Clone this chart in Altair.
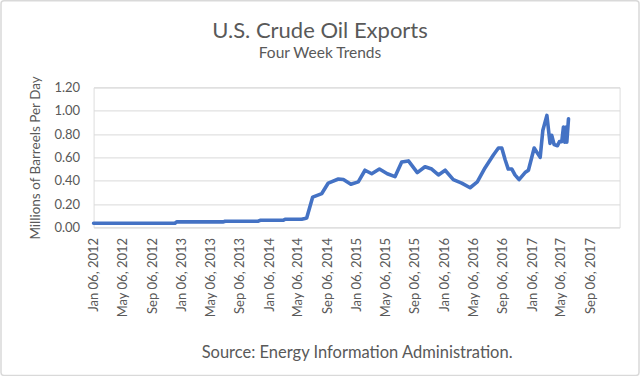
import altair as alt
import pandas as pd

# Four-week average U.S. crude oil exports (million barrels per day)
dates = [
    "2012-01-06", "2012-12-10", "2012-12-17", "2013-06-30", "2013-07-07", "2013-11-22",
    "2013-11-30", "2014-03-07", "2014-03-14", "2014-05-22", "2014-06-05", "2014-06-12",
    "2014-07-07", "2014-08-14", "2014-09-10", "2014-10-22", "2014-11-12", "2014-12-13",
    "2015-01-13", "2015-02-10", "2015-03-10", "2015-04-11", "2015-05-14", "2015-06-15",
    "2015-07-13", "2015-08-10", "2015-09-16", "2015-10-18", "2015-11-15", "2015-12-13",
    "2016-01-10", "2016-02-13", "2016-03-19", "2016-04-23", "2016-05-23", "2016-06-24",
    "2016-07-29", "2016-08-19", "2016-09-02", "2016-09-16", "2016-09-29", "2016-10-14",
    "2016-10-27", "2016-11-13", "2016-12-08", "2016-12-22", "2017-01-15", "2017-02-09",
    "2017-02-20", "2017-03-09", "2017-03-22", "2017-03-29", "2017-04-08", "2017-04-22",
    "2017-04-30", "2017-05-10", "2017-05-17", "2017-05-23", "2017-05-28", "2017-05-31",
    "2017-06-07",
]
exports = [
    0.036, 0.036, 0.047, 0.047, 0.053, 0.053,
    0.061, 0.061, 0.070, 0.070, 0.077, 0.080,
    0.26, 0.29, 0.38, 0.415, 0.41, 0.37,
    0.39, 0.49, 0.46, 0.50, 0.46, 0.435,
    0.56, 0.57, 0.47, 0.52, 0.50, 0.45,
    0.49, 0.41, 0.38, 0.34, 0.39, 0.51,
    0.62, 0.68, 0.68, 0.58, 0.50, 0.50,
    0.45, 0.41, 0.47, 0.49, 0.68, 0.60,
    0.83, 0.96, 0.72, 0.79, 0.71, 0.70,
    0.735, 0.735, 0.86, 0.73, 0.86, 0.73,
    0.93,
]

tick_years = [2012, 2013, 2014, 2015, 2016, 2017]
tick_months = [1, 5, 9]
y_ticks = [0.0, 0.2, 0.4, 0.6, 0.8, 1.0, 1.2]

title_text = "U.S. Crude Oil Exports"
subtitle_text = "Four Week Trends"
y_title = "Millions of Barreels Per Day"
source_text = "Source: Energy Information Administration."

df = pd.DataFrame({"date": dates, "exports": exports})

FONT = "Lato"
GREY = "#595959"
GRID = "#d9d9d9"

x_ticks = [alt.DateTime(year=y, month=m, date=6, utc=True) for y in tick_years for m in tick_months]

line = alt.Chart(df).mark_line(
    color="#4472C4", strokeWidth=3.6, strokeJoin="round", strokeCap="round"
).encode(
    x=alt.X(
        "date:T",
        scale=alt.Scale(
            type="utc",
            domain=[alt.DateTime(year=2012, month=1, date=6, utc=True),
                    alt.DateTime(year=2018, month=1, date=6, utc=True)],
        ),
        axis=alt.Axis(
            values=x_ticks, labelExpr="utcFormat(datum.value, '%b %d, %Y')",
            labelAngle=270, labelPadding=10, labelFont=FONT, labelFontSize=13,
            labelColor=GREY, ticks=False, domain=False, grid=False,
            labelOverlap=False,
            title=source_text,
            titleFont=FONT, titleFontSize=16.5, titleFontWeight="normal",
            titleColor=GREY, titleY=130, titleBaseline="alphabetic",
        ),
    ),
    y=alt.Y(
        "exports:Q",
        scale=alt.Scale(domain=[0, 1.2], nice=False, zero=True),
        axis=alt.Axis(
            values=y_ticks, format=".2f", labelFont=FONT, labelFontSize=13,
            labelColor=GREY, ticks=False, domain=False, labelPadding=14,
            grid=True, gridColor=GRID, gridWidth=1,
            title=y_title, titleFont=FONT, titleFontSize=13.5,
            titleFontWeight="normal", titleColor=GREY, titleX=-58, titleY=70,
            titleBaseline="middle", titleAngle=270,
        ),
    ),
)

one = pd.DataFrame({"title": [title_text], "subtitle": [subtitle_text]})

frame = alt.Chart(one).mark_rect(
    fillOpacity=0, stroke=GRID, strokeWidth=1.5, cornerRadius=3
).encode(
    x=alt.value(-92.6), x2=alt.value(545.4),
    y=alt.value(-86.6), y2=alt.value(288.0),
)

title = alt.Chart(one).mark_text(
    font=FONT, fontSize=22, color=GREY, align="center", baseline="alphabetic"
).encode(text="title:N", x=alt.value(226.4), y=alt.value(-49.0))

subtitle = alt.Chart(one).mark_text(
    font=FONT, fontSize=15.5, color=GREY, align="center", baseline="alphabetic"
).encode(text="subtitle:N", x=alt.value(226.4), y=alt.value(-29.0))

chart = alt.layer(frame, title, subtitle, line).properties(
    width=526,
    height=140,
    autosize=alt.AutoSizeParams(type="none"),
    padding={"left": 93.6, "top": 87.4, "right": 20.4, "bottom": 148.6},
).configure_view(stroke=None).configure(background="white")

chart.save("out.html", embed_options={"renderer": "svg", "actions": False})
